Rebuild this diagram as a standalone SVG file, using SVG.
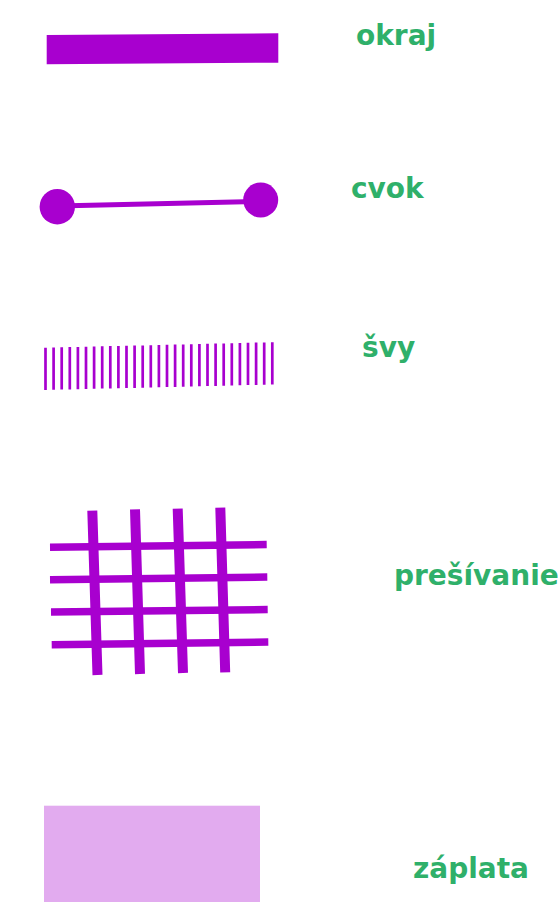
<svg xmlns="http://www.w3.org/2000/svg" width="558" height="902" viewBox="0 0 558 902">
<style>
.lbl{font-family:"DejaVu Sans","Verdana",sans-serif;font-weight:bold;font-size:28px;fill:#2fb06a}
.pur{fill:#a800cf}
.st{stroke:#a800cf;stroke-width:2.7;fill:none}
.gr{stroke:#a800cf;fill:none}
</style>
<rect width="558" height="902" fill="#ffffff"/>
<g id="okraj">
<polygon class="pur" points="46.7,35 278.3,33.3 278.3,62.7 46.7,64.3"/>
<text class="lbl" x="356" y="45">okraj</text>
</g>
<g id="cvok">
<line x1="57.3" y1="206" x2="260.7" y2="201.5" stroke="#a800cf" stroke-width="5"/>
<circle class="pur" cx="57.3" cy="206.7" r="17.7"/>
<circle class="pur" cx="260.7" cy="200" r="17.5"/>
<text class="lbl" x="351" y="198">cvok</text>
</g>
<g id="svy">
<path class="st" d="M45.5,347.7v42.3 M53.6,347.5v42.3 M61.7,347.3v42.3 M69.8,347.1v42.3 M77.9,346.9v42.3 M86,346.7v42.3 M94.1,346.5v42.3 M102.2,346.3v42.3 M110.3,346.1v42.3 M118.4,345.9v42.3 M126.5,345.7v42.3 M134.6,345.6v42.3 M142.7,345.4v42.3 M150.8,345.2v42.3 M158.9,345v42.3 M167,344.8v42.3 M175.1,344.6v42.3 M183.2,344.4v42.3 M191.3,344.2v42.3 M199.4,344v42.3 M207.5,343.8v42.3 M215.6,343.6v42.3 M223.7,343.4v42.3 M231.8,343.2v42.3 M239.9,343v42.3 M248,342.8v42.3 M256.1,342.6v42.3 M264.2,342.4v42.3 M272.3,342.2v42.3"/>
<text class="lbl" x="362" y="357">švy</text>
</g>
<g id="presivanie">
<path class="gr" stroke-width="10" d="M92.3,510.7L97.5,675 M135,509.3L140,674 M177.7,508.7L183,673 M220.3,507.7L225.2,672.3"/>
<path class="gr" stroke-width="7.5" d="M50,547.2L266.7,544.5 M50,579.8L267.3,577 M51,612L267.7,609.5 M51.7,644.8L268.3,642"/>
<text class="lbl" x="394" y="585">prešívanie</text>
</g>
<g id="zaplata">
<rect x="44" y="805.7" width="216" height="96.3" fill="#e2abef"/>
<text class="lbl" x="413" y="878">záplata</text>
</g>
</svg>
